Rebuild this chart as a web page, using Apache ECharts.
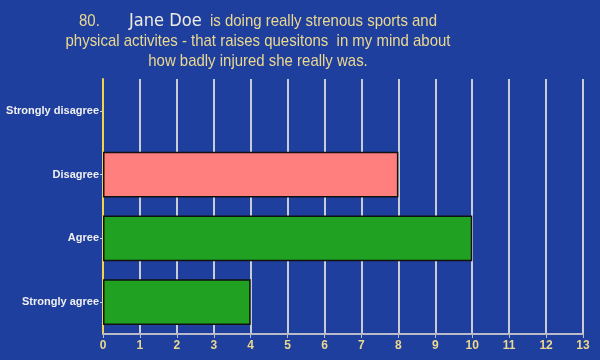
<!DOCTYPE html>
<html><head><meta charset="utf-8">
<script src="https://cdn.jsdelivr.net/npm/echarts@6/dist/echarts.min.js"></script>
<style>html,body{margin:0;padding:0;background:#1f3f9e;}#c{width:600px;height:360px;}</style>
</head><body><div id="c"></div>
<script>
const categories = ["Strongly agree", "Agree", "Disagree", "Strongly disagree"];
const values = [4, 10, 8, 0];
const barColors = ["#21a121", "#21a121", "#ff7f7f", "#21a121"];
const xTicks = [0,1,2,3,4,5,6,7,8,9,10,11,12,13];
const titleLines = [
  "{a|80.       }{b|Jane Doe}{a|  is doing really strenous sports and}",
  "{a|physical activites - that raises quesitons  in my mind about}",
  "{a|how badly injured she really was.}"
];

const chart = echarts.init(document.getElementById('c'));
chart.setOption({
  backgroundColor: '#1f3f9e',
  animation: false,
  graphic: [{
    type: 'text', x: 258, y: 11, scaleX: 0.88, originX: 0,
    style: {
      text: titleLines.join('\n'), align: 'center', verticalAlign: 'top',
      lineHeight: 20,
      rich: {
        a: { fill: '#ead88f', fontFamily: 'Liberation Sans', fontSize: 17, lineHeight: 20 },
        b: { fill: '#ecebe2', fontFamily: 'DejaVu Sans', fontSize: 18.5, lineHeight: 20 }
      }
    }
  }],
  grid: { left: 103, right: 17, top: 79, bottom: 26, containLabel: false },
  xAxis: {
    type: 'value', min: xTicks[0], max: xTicks[xTicks.length-1], interval: 1,
    axisLine: { show: true, lineStyle: { color: '#b8bcc8', width: 2 } },
    axisTick: { show: true, length: 4, lineStyle: { color: '#b8bcc8' } },
    axisLabel: { color: '#ead88f', fontFamily: 'Liberation Sans', fontWeight: 'bold', fontSize: 12, margin: 6 },
    splitLine: { show: true, lineStyle: { color: '#c8ccd6', width: 2 } }
  },
  yAxis: {
    type: 'category', data: categories,
    axisLine: { show: true, lineStyle: { color: '#f2d44a', width: 2 } },
    axisTick: { show: true, length: 3, alignWithLabel: true, lineStyle: { color: '#d0d0d0' } },
    axisLabel: { color: '#f0f0f0', fontFamily: 'Liberation Sans', fontWeight: 'bold', fontSize: 11, margin: 4 },
    splitLine: { show: false }
  },
  series: [{
    type: 'bar', barCategoryGap: '28%',
    data: values.map((v, i) => ({ value: v, itemStyle: { color: barColors[i], borderWidth: v === 0 ? 0 : 1.5 } })),
    itemStyle: { borderColor: '#111', borderWidth: 1.5 }
  }]
});
</script></body></html>
